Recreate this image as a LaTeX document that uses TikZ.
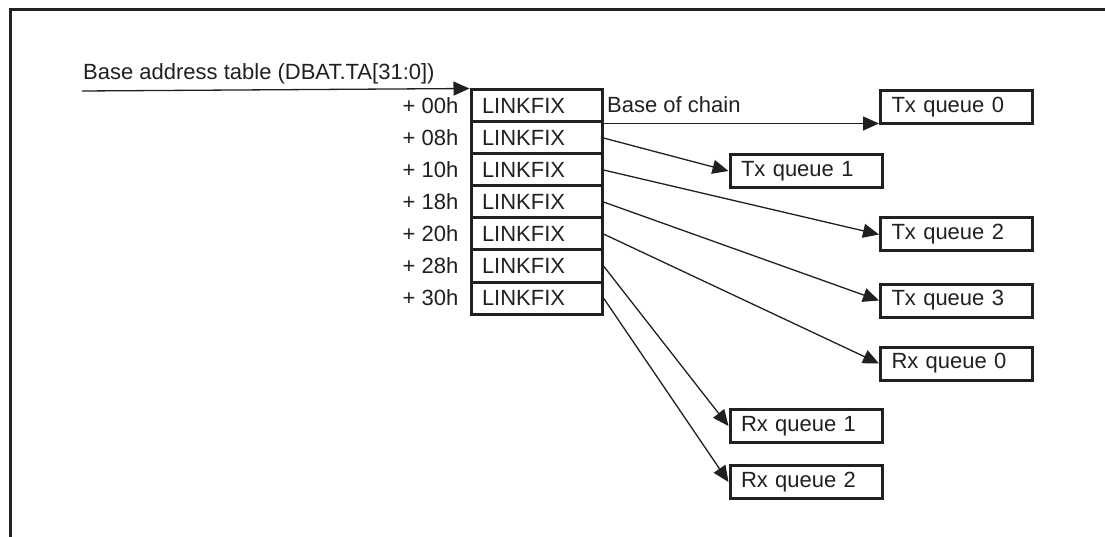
\documentclass[tikz,border=0pt]{standalone}
\usepackage{fontspec}
\setmainfont{Liberation Sans}
\usetikzlibrary{arrows.meta}
\definecolor{ink}{RGB}{35,31,32}
\begin{document}
\begin{tikzpicture}[x=1pt,y=-1pt,
  every node/.style={font=\fontsize{22}{26}\selectfont, text=ink},
  cell/.style={draw=ink, line width=3pt, minimum width=131pt, minimum height=32pt, text width=109pt, inner xsep=11pt, inner ysep=0pt, align=left},
  qbox/.style={draw=ink, line width=3pt, minimum height=33pt, text width=130pt, inner xsep=11pt, inner ysep=0pt, align=left},
  off/.style={anchor=east, inner sep=0pt},
  arr/.style={draw=ink, line width=1.3pt, -{Triangle[length=16pt,width=14pt]}}
]
\useasboundingbox (0,0) rectangle (1105,537);
% frame
\draw[ink, line width=3pt, line join=miter] (1105,10) -- (10,10) -- (10,537);

% table
\foreach \i/\o in {0/00,1/08,2/10,3/18,4/20,5/28,6/30} {
  \node[cell] (b\i) at (536.5,{106+32*\i}) {LINKFIX};
  \node[off] (o\i) at ([xshift=-11pt]b\i.west) {+ \o h};
}

% queues
\node[qbox] (tx0) at (956.5,107.5) {Tx queue 0};
\node[qbox] (tx1) at (806,171) {Tx queue 1};
\node[qbox] (tx2) at (956.5,234.5) {Tx queue 2};
\node[qbox] (tx3) at (956.5,300.5) {Tx queue 3};
\node[qbox] (rx0) at (956.5,363.5) {Rx queue 0};
\node[qbox] (rx1) at (806,426) {Rx queue 1};
\node[qbox] (rx2) at (806,482) {Rx queue 2};

% input
\coordinate (in) at (82,91);
\node[anchor=base west, inner sep=0pt] (title) at (83,80) {Base address table (DBAT.TA[31:0])};
\draw[arr] (in) -- (b0.north west);

% base of chain
\node[anchor=base west, inner sep=0pt] (boc) at (607,113) {Base of chain};
\draw[arr] (b0.south east) -- (b0.south east -| tx0.west);

\draw[arr] (b1.east) -- (tx1.west);
\draw[arr] (b2.east) -- (tx2.west);
\draw[arr] (b3.east) -- (tx3.west);
\draw[arr] (b4.east) -- (rx0.west);
\draw[arr] (b5.east) -- (rx1.west);
\draw[arr] (b6.east) -- (rx2.west);
\end{tikzpicture}
\end{document}
